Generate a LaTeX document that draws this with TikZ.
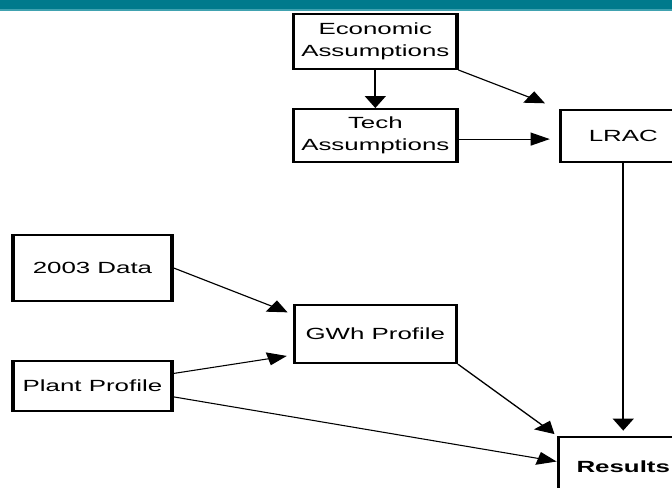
\documentclass[tikz,border=0pt]{standalone}
\usepackage{fontspec}
\setmainfont{Liberation Sans}
\usetikzlibrary{arrows.meta,positioning}
\definecolor{barteal}{RGB}{0,122,140}
\definecolor{barline}{RGB}{64,162,176}
\tikzset{
  stagebox/.style={draw, line width=1.2pt, inner sep=0pt, align=center, font=\fontsize{9.2}{12.4}\selectfont},
  feed/.style={-{Triangle[length=6.8pt, width=7.4pt]}, line width=0.6pt}
}
\begin{document}
\begin{tikzpicture}[x=0.02cm, y=-0.02cm]
  \useasboundingbox[fill=white] (0,0) rectangle (672,487);
  % slide title bar
  \fill[barteal] (0,0) rectangle (672,9);
  \fill[barline] (0,9) rectangle (672,10.5);

  % the slide is stretched sideways
  \begin{scope}[transform canvas={xscale=1.6}, x=0.0125cm, y=-0.02cm]
    \node[stagebox, minimum width=2.04cm, minimum height=1.1cm] (econ) at (375.5,41.5) {Economic\\Assumptions};
    \node[stagebox, minimum width=2.04cm, minimum height=1.06cm, below=0.76cm of econ] (tech) {Tech\\Assumptions};
    \node[stagebox, minimum width=1.575cm, minimum height=1.04cm, right=1.25cm of tech] (lrac) {LRAC};
    \node[stagebox, minimum width=2.025cm, minimum height=1.16cm, below=2.82cm of tech] (gwh) {GWh Profile};
    \node[stagebox, minimum width=1.99cm, minimum height=1.32cm] (data) at (92.5,268) {2003 Data};
    \node[stagebox, minimum width=1.99cm, minimum height=1.0cm, below=1.16cm of data] (plant) {Plant Profile};
    \node[stagebox, minimum width=1.625cm, minimum height=1.2cm, below=5.46cm of lrac] (results) {\bfseries Results};

    \draw[feed] (econ) -- (tech);
    \draw[feed, shorten >=0.2cm] (econ.south east) -- (lrac.north west);
    \draw[feed, shorten >=0.11cm] ([yshift=-0.07cm]tech.east) -- ([yshift=-0.07cm]lrac.west);
    \draw[feed, shorten >=0.1cm] (lrac.south) -- (lrac.south |- results.north);
    \draw[feed, shorten >=0.075cm] (data.east) -- (gwh.159);
    \draw[feed, shorten >=0.075cm] (plant.14) -- (gwh.202);
    \draw[feed] (plant.-12) -- (results.173);
    \draw[feed, shorten >=0.04cm] (gwh.south east) -- (results.north west);
  \end{scope}
\end{tikzpicture}
\end{document}
